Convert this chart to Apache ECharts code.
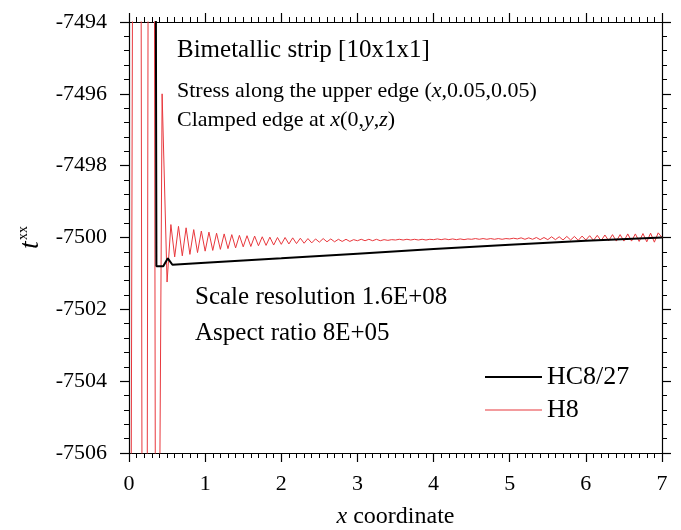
<!DOCTYPE html>
<html>
<head>
<meta charset="utf-8">
<script src="https://cdn.jsdelivr.net/npm/echarts@6/dist/echarts.min.js"></script>
<style>html,body{margin:0;padding:0;background:#fff}#c{width:681px;height:530px}</style>
</head>
<body>
<div id="c"></div>
<script>
// ---- data ----
var xTicks = [0, 1, 2, 3, 4, 5, 6, 7];
var yTicks = [-7506, -7504, -7502, -7500, -7498, -7496, -7494];
var seriesNames = ['HC8/27', 'H8'];

// HC8/27 (black)
var hc827Points = [
  [0.00, -7300], [0.33, -7470], [0.36, -7500.80], [0.45, -7500.80],
  [0.51, -7500.58], [0.57, -7500.76], [1.00, -7500.70], [2.00, -7500.58],
  [3.00, -7500.45], [4.00, -7500.32], [5.00, -7500.20], [6.00, -7500.09],
  [7.00, -7500.00]
];

// H8 (red)
var h8Points = [
  [0.000, -7530], [0.025, -7530], [0.075, -7470], [0.140, -7470], [0.190, -7530],
  [0.220, -7530], [0.270, -7470], [0.315, -7470], [0.365, -7530], [0.405, -7506.5],
  [0.435, -7496.00],
  [0.50, -7501.24], [0.55, -7499.64], [0.60, -7500.54], [0.65, -7499.69], [0.70, -7500.51],
  [0.75, -7499.73], [0.80, -7500.47], [0.85, -7499.78], [0.90, -7500.42], [0.95, -7499.82],
  [1.00, -7500.38], [1.05, -7499.85], [1.10, -7500.36], [1.15, -7499.88], [1.20, -7500.33],
  [1.25, -7499.90], [1.30, -7500.31], [1.35, -7499.92], [1.40, -7500.29], [1.45, -7499.94],
  [1.50, -7500.26], [1.55, -7499.95], [1.60, -7500.25], [1.65, -7499.96], [1.70, -7500.23],
  [1.75, -7499.98], [1.80, -7500.22], [1.85, -7499.99], [1.90, -7500.21], [1.95, -7500.00],
  [2.00, -7500.19], [2.05, -7500.00], [2.10, -7500.18], [2.15, -7500.01], [2.20, -7500.17],
  [2.25, -7500.02], [2.30, -7500.16], [2.35, -7500.03], [2.40, -7500.15], [2.45, -7500.04],
  [2.50, -7500.13], [2.55, -7500.03], [2.60, -7500.12], [2.65, -7500.04], [2.70, -7500.12],
  [2.75, -7500.05], [2.80, -7500.11], [2.85, -7500.05], [2.90, -7500.11], [2.95, -7500.06],
  [3.00, -7500.09], [3.05, -7500.05], [3.10, -7500.09], [3.15, -7500.05], [3.20, -7500.09],
  [3.25, -7500.05], [3.30, -7500.09], [3.35, -7500.06], [3.40, -7500.08], [3.45, -7500.06],
  [3.50, -7500.07], [3.55, -7500.05], [3.60, -7500.07], [3.65, -7500.05], [3.70, -7500.07],
  [3.75, -7500.05], [3.80, -7500.07], [3.85, -7500.05], [3.90, -7500.07], [3.95, -7500.05],
  [4.00, -7500.06], [4.05, -7500.04], [4.10, -7500.06], [4.15, -7500.04], [4.20, -7500.06],
  [4.25, -7500.04], [4.30, -7500.06], [4.35, -7500.04], [4.40, -7500.06], [4.45, -7500.04],
  [4.50, -7500.05], [4.55, -7500.03], [4.60, -7500.05], [4.65, -7500.03], [4.70, -7500.05],
  [4.75, -7500.03], [4.80, -7500.05], [4.85, -7500.03], [4.90, -7500.05], [4.95, -7500.03],
  [5.00, -7500.04], [5.05, -7500.02], [5.10, -7500.04], [5.15, -7500.01], [5.20, -7500.05],
  [5.25, -7500.01], [5.30, -7500.05], [5.35, -7500.00], [5.40, -7500.06], [5.45, -7500.00],
  [5.50, -7500.06], [5.55, -7499.98], [5.60, -7500.06], [5.65, -7499.98], [5.70, -7500.07],
  [5.75, -7499.97], [5.80, -7500.07], [5.85, -7499.97], [5.90, -7500.08], [5.95, -7499.96],
  [6.00, -7500.07], [6.05, -7499.95], [6.10, -7500.08], [6.15, -7499.94], [6.20, -7500.09],
  [6.25, -7499.93], [6.30, -7500.09], [6.35, -7499.92], [6.40, -7500.10], [6.45, -7499.92],
  [6.50, -7500.10], [6.55, -7499.90], [6.60, -7500.10], [6.65, -7499.90], [6.70, -7500.11],
  [6.75, -7499.89], [6.80, -7500.12], [6.85, -7499.88], [6.90, -7500.13], [6.95, -7499.87],
  [7.00, -7500.00]
];

var titleText = 'Bimetallic strip [10x1x1]';
var noteLine1 = 'Stress along the upper edge ({i|x},0.05,0.05)';
var noteLine2 = 'Clamped edge at {i|x}(0,{i|y},{i|z})';
var scaleText = 'Scale resolution 1.6E+08';
var aspectText = 'Aspect ratio 8E+05';

// ---- chart ----
var FONT = '"Liberation Serif", "Times New Roman", serif';
var chart = echarts.init(document.getElementById('c'), null, {renderer: 'canvas'});

function xAxisCfg(pos, showLabel) {
  return {
    type: 'value', position: pos, min: xTicks[0], max: xTicks[xTicks.length - 1], interval: 1,
    axisLine: {show: true, onZero: false, lineStyle: {color: '#000', width: 1.2}},
    axisTick: {show: true, inside: false, length: 9, lineStyle: {color: '#000', width: 1.2}},
    minorTick: {show: true, splitNumber: 10, length: 5, lineStyle: {color: '#000', width: 1}},
    splitLine: {show: false},
    axisLabel: {show: showLabel, margin: 20, color: '#000', fontSize: 22, fontFamily: FONT},
    name: showLabel ? '{i|x}{n| coordinate}' : '',
    nameLocation: 'middle', nameGap: 52,
    nameTextStyle: {color: '#000', fontSize: 24, fontFamily: FONT,
      rich: {i: {fontStyle: 'italic', fontSize: 24, fontFamily: FONT, color: '#000'},
             n: {fontSize: 24, fontFamily: FONT, color: '#000'}}}
  };
}
function yAxisCfg(pos, showLabel) {
  return {
    type: 'value', position: pos, min: yTicks[0], max: yTicks[yTicks.length - 1], interval: 2,
    axisLine: {show: true, onZero: false, lineStyle: {color: '#000', width: 1.2}},
    axisTick: {show: true, inside: false, length: 9, lineStyle: {color: '#000', width: 1.2}},
    minorTick: {show: true, splitNumber: 5, length: 5, lineStyle: {color: '#000', width: 1}},
    splitLine: {show: false},
    axisLabel: {show: showLabel, margin: 22, color: '#000', fontSize: 22, fontFamily: FONT,
      formatter: function (v) { return String(v); }},
    name: showLabel ? '{t|t}{s|xx}' : '',
    nameLocation: 'middle', nameGap: 83, nameRotate: 90,
    nameTextStyle: {color: '#000', fontFamily: FONT,
      rich: {t: {fontStyle: 'italic', fontSize: 28, fontFamily: FONT, color: '#000'},
             s: {fontSize: 14, fontFamily: FONT, color: '#000', verticalAlign: 'top', padding: [0, 0, 10, 1]}}}
  };
}

function legendCfg(name, top, h) {
  return {
    orient: 'vertical', left: 480, top: top, itemWidth: 57, itemHeight: h, itemGap: 0,
    icon: 'rect',
    textStyle: {color: '#000', fontSize: 26, fontFamily: FONT, padding: [0, 0, 0, 0]},
    data: [name]
  };
}

var option = {
  animation: false,
  backgroundColor: '#fff',
  grid: {left: 129, right: 19, top: 22, bottom: 77, containLabel: false, outerBoundsMode: 'none'},
  xAxis: [xAxisCfg('bottom', true), xAxisCfg('top', false)],
  yAxis: [yAxisCfg('left', true), yAxisCfg('right', false)],
  legend: [legendCfg(seriesNames[0], 359, 2), legendCfg(seriesNames[1], 392, 1)],
  series: [
    {name: seriesNames[0], type: 'line', data: hc827Points, showSymbol: false, symbol: 'none',
     lineStyle: {color: '#000', width: 2}, itemStyle: {color: '#000'}, clip: true, z: 3},
    {name: seriesNames[1], type: 'line', data: h8Points, showSymbol: false, symbol: 'none',
     lineStyle: {color: '#e8383d', width: 1}, itemStyle: {color: '#e8383d'}, clip: true, z: 2}
  ],
  graphic: [
    {type: 'text', left: 177, top: 38, style: {text: titleText, fontSize: 25, fontFamily: FONT, fill: '#000'}},
    {type: 'text', left: 177, top: 80, style: {text: noteLine1, fontSize: 22, fontFamily: FONT, fill: '#000',
      rich: {i: {fontStyle: 'italic', fontSize: 22, fontFamily: FONT, fill: '#000'}}}},
    {type: 'text', left: 177, top: 109, style: {text: noteLine2, fontSize: 22, fontFamily: FONT, fill: '#000',
      rich: {i: {fontStyle: 'italic', fontSize: 22, fontFamily: FONT, fill: '#000'}}}},
    {type: 'text', left: 195, top: 285, style: {text: scaleText, fontSize: 25, fontFamily: FONT, fill: '#000'}},
    {type: 'text', left: 195, top: 321, style: {text: aspectText, fontSize: 25, fontFamily: FONT, fill: '#000'}}
  ]
};
chart.setOption(option);
</script>
</body>
</html>
